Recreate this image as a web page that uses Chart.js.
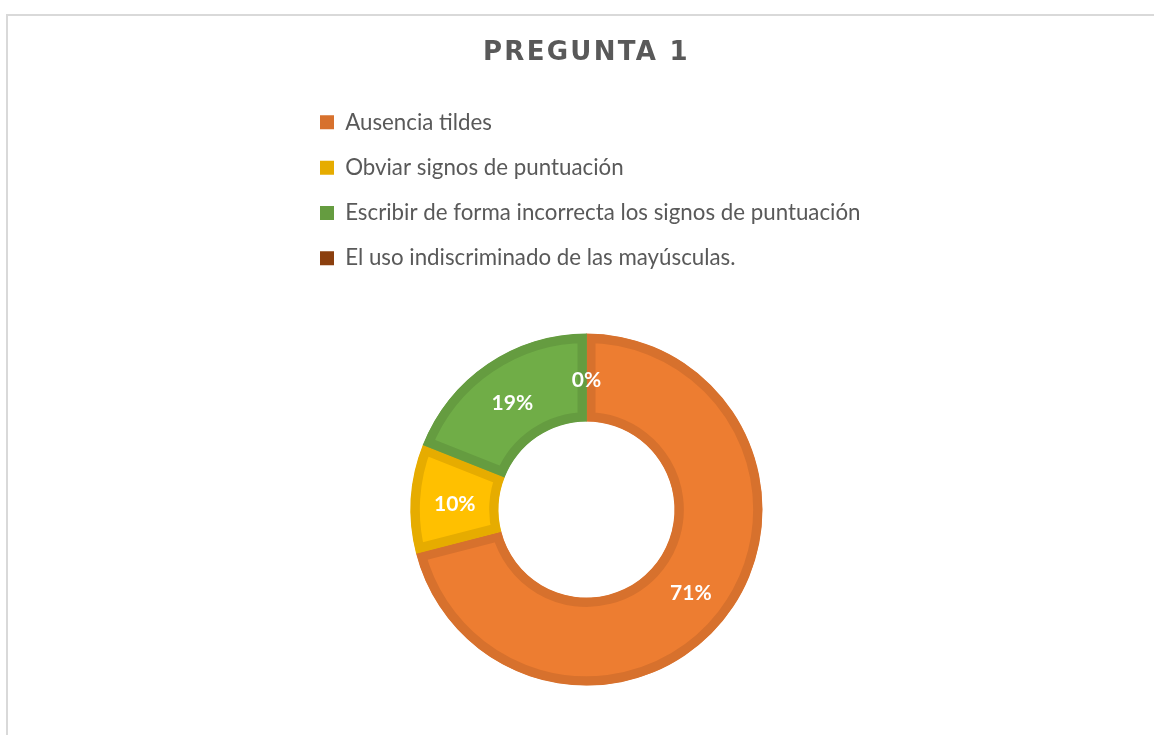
<!DOCTYPE html>
<html lang="es">
<head>
<meta charset="utf-8">
<title>Pregunta 1</title>
<script src="https://cdn.jsdelivr.net/npm/chart.js@4.4.1/dist/chart.umd.min.js"></script>
<style>
  html, body { margin: 0; padding: 0; background: #fff; overflow: hidden; }
  .frame {
    position: absolute; left: 6px; top: 14px; width: 1400px; height: 1000px;
    border-left: 2px solid #d9d9d9; border-top: 2px solid #d9d9d9;
  }
  .wrap { position: absolute; left: 0; top: 0; width: 1154px; height: 931px; }
</style>
</head>
<body>
<div class="frame"></div>
<div class="wrap"><canvas id="canvas"></canvas></div>
<script>
const categories = [
  'Ausencia tildes',
  'Obviar signos de puntuación',
  'Escribir de forma incorrecta los signos de puntuación',
  'El uso indiscriminado de las mayúsculas.',
];
const percentages = [71, 10, 19, 0];
const fillColors = ['#ED7D31', '#FFC000', '#70AD47', '#9E480E'];
const edgeColors = ['#D7712D', '#E6AC00', '#659C40', '#8B3F0E'];

const TITLE_SPACING = 2.3;

// white % text in the middle of each ring segment
const sliceLabels = {
  id: 'sliceLabels',
  afterDatasetsDraw(chart) {
    const ctx = chart.ctx;
    const meta = chart.getDatasetMeta(0);
    ctx.save();
    ctx.font = 'bold 21px Lato';
    ctx.fillStyle = '#ffffff';
    ctx.textAlign = 'center';
    ctx.textBaseline = 'middle';
    meta.data.forEach((arc, i) => {
      const p = arc.getCenterPoint();
      ctx.fillText(percentages[i] + '%', p.x, p.y + 3);
    });
    ctx.restore();
  },
};

// Chart.js has no letter-spacing option, so the title block gets it here
const titleSpacing = {
  id: 'titleSpacing',
  beforeDraw(chart) {
    const block = chart.titleBlock;
    if (!block || block._spaced) return;
    const draw = block.draw;
    block.draw = function (area) {
      this.ctx.save();
      this.ctx.letterSpacing = TITLE_SPACING + 'px';
      draw.call(this, area);
      this.ctx.restore();
    };
    block._spaced = true;
  },
};

// a 'chartArea' legend gets top = 0 from the layout; pin it to the chart area instead
const legendInArea = {
  id: 'legendInArea',
  afterLayout(chart) {
    const legend = chart.legend;
    legend.top = chart.chartArea.top;
    legend.bottom = chart.chartArea.bottom;
    legend.height = legend.bottom - legend.top;
  },
};

const config = {
  type: 'doughnut',
  data: {
    labels: categories,
    datasets: [
      {
        data: percentages,
        backgroundColor: fillColors,
        borderColor: edgeColors,
        borderWidth: 9,
        borderAlign: 'inner',
        borderJoinStyle: 'miter',
        radius: 176,
        cutout: '50%',
      },
    ],
  },
  options: {
    responsive: true,
    maintainAspectRatio: false,
    animation: false,
    layout: {
      padding: { left: 297, right: 278, top: 0, bottom: 0 },
    },
    plugins: {
      title: {
        display: true,
        text: 'PREGUNTA 1',
        color: '#595959',
        font: { family: '"DejaVu Sans"', size: 26, weight: 'bold', lineHeight: 1.2 },
        padding: { top: 38, bottom: 19 },
      },
      legend: {
        position: 'chartArea',
        align: 'start',
        labels: {
          boxWidth: 14,
          boxHeight: 14,
          padding: 23,
          color: '#595959',
          font: { family: 'Lato', size: 22.3 },
          generateLabels: () =>
            categories.map((text, i) => ({
              text,
              fillStyle: edgeColors[i],
              strokeStyle: edgeColors[i],
              lineWidth: 0,
              fontColor: '#595959',
              hidden: false,
              index: i,
            })),
        },
      },
      tooltip: { enabled: false },
    },
  },
  plugins: [sliceLabels, titleSpacing, legendInArea],
};

const ctx = document.getElementById('canvas').getContext('2d');
window.myDoughnut = new Chart(ctx, config);
</script>
</body>
</html>
